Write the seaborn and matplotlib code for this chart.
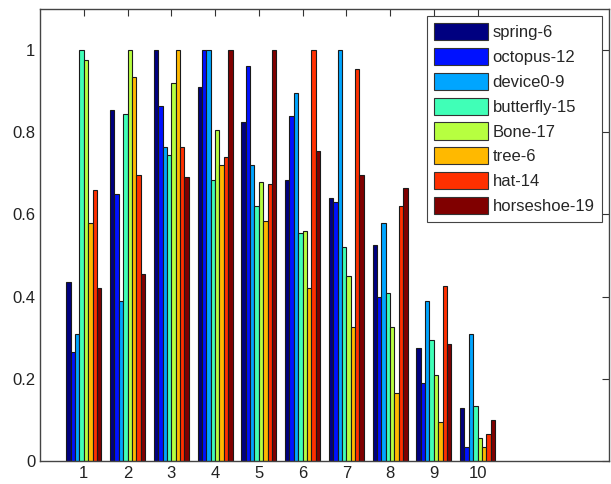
import matplotlib
matplotlib.use("Agg")
import matplotlib.pyplot as plt
import matplotlib.patches as mpatches
import seaborn as sns
import pandas as pd
import numpy as np

groups = [1, 2, 3, 4, 5, 6, 7, 8, 9, 10]
series = ["spring-6", "octopus-12", "device0-9", "butterfly-15",
          "Bone-17", "tree-6", "hat-14", "horseshoe-19"]

spring = [0.435, 0.855, 1.0, 0.91, 0.825, 0.685, 0.64, 0.525, 0.275, 0.13]
octopus = [0.265, 0.65, 0.865, 1.0, 0.96, 0.84, 0.63, 0.40, 0.19, 0.035]
device = [0.31, 0.39, 0.765, 1.0, 0.72, 0.895, 1.0, 0.58, 0.39, 0.31]
butterfly = [1.0, 0.845, 0.745, 0.685, 0.62, 0.555, 0.52, 0.41, 0.295, 0.135]
bone = [0.975, 1.0, 0.92, 0.805, 0.68, 0.56, 0.45, 0.325, 0.21, 0.055]
tree = [0.58, 0.935, 1.0, 0.72, 0.585, 0.42, 0.325, 0.165, 0.095, 0.035]
hat = [0.66, 0.695, 0.765, 0.74, 0.675, 1.0, 0.955, 0.62, 0.425, 0.065]
horseshoe = [0.42, 0.455, 0.69, 1.0, 1.0, 0.755, 0.695, 0.665, 0.285, 0.10]

values = [spring, octopus, device, butterfly, bone, tree, hat, horseshoe]

rows = []
for name, vals in zip(series, values):
    for g, v in zip(groups, vals):
        rows.append({"group": g, "series": name, "value": v})
df = pd.DataFrame(rows)

# jet colormap, one colour per series
colors = [tuple(c) for c in plt.cm.jet(np.linspace(0, 1, len(series)))]

sns.set_style("white")
plt.rcParams["font.family"] = ["Liberation Sans", "DejaVu Sans"]

fig = plt.figure(figsize=(6.11, 4.84), dpi=100)
ax = fig.add_axes([0.0655, 0.0475, 0.931, 0.934])

sns.barplot(data=df, x="group", y="value", hue="series", hue_order=series,
            palette=colors, native_scale=True, width=0.8, gap=0,
            errorbar=None, saturation=1, edgecolor="#1a1a1a", linewidth=0.8,
            ax=ax, legend=False)

ax.set_xlim(0, 13)
ax.set_ylim(0, 1.1)
ax.set_xticks(groups)
ax.set_xticklabels([str(g) for g in groups])
ax.set_yticks([0, 0.2, 0.4, 0.6, 0.8, 1.0])
ax.set_yticklabels(["0", "0.2", "0.4", "0.6", "0.8", "1"])
ax.set_xlabel("")
ax.set_ylabel("")
ax.tick_params(direction="in", top=True, right=True, length=5, width=0.8,
               labelsize=12, colors="#333333", labelcolor="#222222")
for s in ax.spines.values():
    s.set_color("#444444")
    s.set_linewidth(1.0)

handles = [mpatches.Patch(facecolor=c, edgecolor="#333333", linewidth=0.8)
           for c in colors]
leg = ax.legend(handles, series, loc="upper right", fontsize=12,
                handlelength=3.2, handleheight=1.2, labelspacing=0.46,
                handletextpad=0.3, borderpad=0.45, borderaxespad=0.4,
                fancybox=False, framealpha=1, edgecolor="#444444")
leg.get_frame().set_linewidth(0.8)

fig.savefig("out.png", dpi=100)
